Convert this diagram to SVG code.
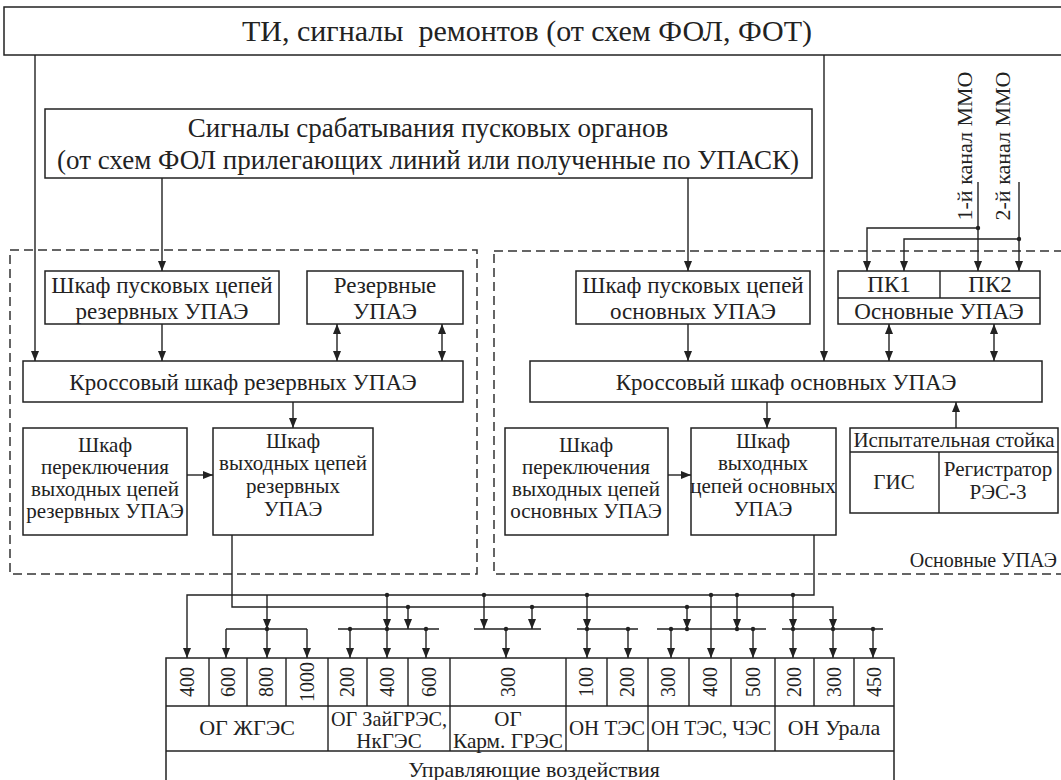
<svg xmlns="http://www.w3.org/2000/svg" width="1061" height="780" viewBox="0 0 1061 780" font-family="Liberation Serif, Times New Roman, serif">
<defs>
<style>
.b{fill:#fff;stroke:#222;stroke-width:1.5}
.d{fill:none;stroke:#333;stroke-width:1.5;stroke-dasharray:9 5}
.c{fill:none;stroke:#222;stroke-width:1.4}
.t{font-family:"Liberation Serif","Times New Roman",serif;font-size:23px;fill:#222;text-anchor:middle;white-space:pre}
.s{font-size:21px}
.n{font-family:"Liberation Serif","Times New Roman",serif;font-size:20px;fill:#222;text-anchor:middle}
.dot{fill:#222}
</style>
<marker id="ah" viewBox="0 0 10 8" refX="10" refY="4" markerWidth="10" markerHeight="8" markerUnits="userSpaceOnUse" orient="auto-start-reverse"><path d="M0,0 L10,4 L0,8 z" fill="#222"/></marker>
</defs>
<rect width="1061" height="780" fill="#fff"/>

<g id="top"><rect class="b" x="4" y="7" width="1070" height="48"/><text class="t" x="527" y="41" style="font-size:30px">ТИ, сигналы  ремонтов (от схем ФОЛ, ФОТ)</text></g>

<g id="signals"><rect class="b" x="45" y="109" width="767" height="69"/>
<text class="t" x="428" y="137" style="font-size:27px">Сигналы срабатывания пусковых органов</text>
<text class="t" x="428" y="169" style="font-size:27px">(от схем ФОЛ прилегающих линий или полученные по УПАСК)</text></g>

<g id="mmo1"><text class="n" style="font-size:22px" transform="translate(972,146) rotate(-90)">1-й канал ММО</text></g>
<g id="mmo2"><text class="n" style="font-size:22px" transform="translate(1010,146) rotate(-90)">2-й канал ММО</text></g>

<g id="zone-res"><rect class="d" x="10" y="250" width="467" height="324"/></g>
<g id="zone-main"><rect class="d" x="494" y="251" width="600" height="323"/><text class="t" x="1057" y="567" style="text-anchor:end;font-size:20px">Основные УПАЭ</text></g>

<g id="res-start"><rect class="b" x="45" y="271" width="234" height="53"/><text class="t" x="162" y="293">Шкаф пусковых цепей</text><text class="t" x="162" y="319">резервных УПАЭ</text></g>
<g id="res-upae"><rect class="b" x="307" y="271" width="156" height="53"/><text class="t" x="385" y="293">Резервные</text><text class="t" x="385" y="319">УПАЭ</text></g>
<g id="res-cross"><rect class="b" x="23" y="361" width="440" height="41"/><text class="t" x="243" y="390">Кроссовый шкаф резервных УПАЭ</text></g>
<g id="res-switch"><rect class="b" x="23" y="428" width="164" height="107"/><g class="t s"><text x="105" y="452">Шкаф</text><text x="105" y="474">переключения</text><text x="105" y="496">выходных  цепей</text><text x="105" y="518">резервных УПАЭ</text></g></g>
<g id="res-out"><rect class="b" x="213" y="428" width="160" height="107"/><g class="t s"><text x="293" y="448">Шкаф</text><text x="293" y="470">выходных цепей</text><text x="293" y="493">резервных</text><text x="293" y="516">УПАЭ</text></g></g>

<g id="main-start"><rect class="b" x="576" y="271" width="234" height="53"/><text class="t" x="693" y="293">Шкаф пусковых цепей</text><text class="t" x="693" y="319">основных УПАЭ</text></g>
<g id="main-upae"><rect class="b" x="838" y="271" width="202" height="53"/><line class="c" x1="838" y1="298" x2="1040" y2="298"/><line class="c" x1="940" y1="271" x2="940" y2="298"/><text class="t" x="889" y="292">ПК1</text><text class="t" x="990" y="292">ПК2</text><text class="t" x="939" y="319">Основные УПАЭ</text></g>
<g id="main-cross"><rect class="b" x="530" y="361" width="512" height="41"/><text class="t" x="786" y="390">Кроссовый шкаф основных УПАЭ</text></g>
<g id="main-switch"><rect class="b" x="505" y="428" width="163" height="107"/><g class="t s"><text x="586" y="452">Шкаф</text><text x="586" y="474">переключения</text><text x="586" y="496">выходных  цепей</text><text x="586" y="518">основных УПАЭ</text></g></g>
<g id="main-out"><rect class="b" x="691" y="428" width="145" height="107"/><g class="t s"><text x="763" y="448">Шкаф</text><text x="763" y="470">выходных</text><text x="763" y="493">цепей основных</text><text x="763" y="516">УПАЭ</text></g></g>
<g id="test"><rect class="b" x="850" y="428" width="208" height="85"/><line class="c" x1="850" y1="452" x2="1058" y2="452"/><line class="c" x1="939" y1="452" x2="939" y2="513"/><g class="t s"><text x="954" y="447">Испытательная стойка</text><text x="894" y="489">ГИС</text><text x="998" y="476">Регистратор</text><text x="998" y="499">РЭС-3</text></g></g>

<g id="table">
<rect class="b" x="166" y="658" width="728" height="130"/>
<line class="c" x1="166" y1="706" x2="894" y2="706"/>
<line class="c" x1="166" y1="751" x2="894" y2="751"/>
<path class="c" d="M209,658V706M247,658V706M286,658V706M328,658V751M367,658V706M408,658V706M450,658V751M566,658V751M607,658V706M648,658V751M689,658V706M731,658V706M775,658V751M814,658V706M854,658V706"/>
<g class="n">
<text transform="translate(194,682) rotate(-90)">400</text>
<text transform="translate(235,682) rotate(-90)">600</text>
<text transform="translate(273,682) rotate(-90)">800</text>
<text transform="translate(314,682) rotate(-90)">1000</text>
<text transform="translate(354,682) rotate(-90)">200</text>
<text transform="translate(394,682) rotate(-90)">400</text>
<text transform="translate(436,682) rotate(-90)">600</text>
<text transform="translate(515,682) rotate(-90)">300</text>
<text transform="translate(593,682) rotate(-90)">100</text>
<text transform="translate(634,682) rotate(-90)">200</text>
<text transform="translate(675,682) rotate(-90)">300</text>
<text transform="translate(717,682) rotate(-90)">400</text>
<text transform="translate(760,682) rotate(-90)">500</text>
<text transform="translate(801,682) rotate(-90)">200</text>
<text transform="translate(841,682) rotate(-90)">300</text>
<text transform="translate(881,682) rotate(-90)">450</text>
</g>
<g class="t" style="font-size:22px">
<text x="247" y="735">ОГ ЖГЭС</text>
<text x="834" y="735">ОН Урала</text>
<text x="607" y="735" textLength="76" lengthAdjust="spacingAndGlyphs">ОН ТЭС</text>
<text x="711" y="735" textLength="120" lengthAdjust="spacingAndGlyphs">ОН ТЭС, ЧЭС</text>
<text x="534" y="777">Управляющие воздействия</text>
</g>
<g class="t" style="font-size:21px">
<text x="389" y="726" textLength="116" lengthAdjust="spacingAndGlyphs">ОГ ЗайГРЭС,</text>
<text x="389" y="748">НкГЭС</text>
<text x="508" y="726">ОГ</text>
<text x="508" y="748" textLength="110" lengthAdjust="spacingAndGlyphs">Карм. ГРЭС</text>
</g>
</g>

<g id="connectors">
<path class="c" marker-end="url(#ah)" d="M35,55V361"/>
<path class="c" marker-end="url(#ah)" d="M824,55V361"/>
<path class="c" marker-end="url(#ah)" d="M162,178V271"/>
<path class="c" marker-end="url(#ah)" d="M688,178V271"/>
<path class="c" marker-end="url(#ah)" d="M162,324V361"/>
<path class="c" marker-end="url(#ah)" marker-start="url(#ah)" d="M337,324V361"/>
<path class="c" marker-end="url(#ah)" marker-start="url(#ah)" d="M442,324V361"/>
<path class="c" marker-end="url(#ah)" d="M293,402V428"/>
<path class="c" marker-end="url(#ah)" d="M187,475H213"/>
<path class="c" marker-end="url(#ah)" d="M688,324V361"/>
<path class="c" marker-end="url(#ah)" marker-start="url(#ah)" d="M889,324V361"/>
<path class="c" marker-end="url(#ah)" marker-start="url(#ah)" d="M994,324V361"/>
<path class="c" marker-end="url(#ah)" d="M767,402V428"/>
<path class="c" marker-end="url(#ah)" d="M956,428V402"/>
<path class="c" marker-end="url(#ah)" d="M668,475H691"/>
<path class="c" d="M978,182V228"/>
<path class="c" marker-end="url(#ah)" d="M978,228V271"/>
<path class="c" marker-end="url(#ah)" d="M978,228H867V271"/>
<path class="c" d="M1019,182V239"/>
<path class="c" marker-end="url(#ah)" d="M1019,239V271"/>
<path class="c" marker-end="url(#ah)" d="M1019,239H904V271"/>
<circle class="dot" cx="978" cy="228" r="2.2"/>
<circle class="dot" cx="1019" cy="239" r="2.2"/>

<path class="c" marker-end="url(#ah)" d="M814,535V595H187V658"/>
<path class="c" marker-end="url(#ah)" d="M232,535V607H833V629"/>
<path class="c" marker-end="url(#ah)" d="M833,629V658"/>
<path class="c" d="M226,629H307M338,629H439M474,629H541M577,629H638M657,629H766M782,629H883"/>
<path class="c" marker-end="url(#ah)" d="M267,595V629"/>
<path class="c" marker-end="url(#ah)" d="M226,629V658"/>
<path class="c" marker-end="url(#ah)" d="M267,629V658"/>
<path class="c" marker-end="url(#ah)" d="M307,629V658"/>
<path class="c" marker-end="url(#ah)" d="M387,595V629"/>
<path class="c" marker-end="url(#ah)" d="M387,629V658"/>
<path class="c" marker-end="url(#ah)" d="M408,607V629"/>
<path class="c" marker-end="url(#ah)" d="M350,629V658"/>
<path class="c" marker-end="url(#ah)" d="M426,629V658"/>
<path class="c" marker-end="url(#ah)" d="M484,595V629"/>
<path class="c" marker-end="url(#ah)" d="M532,607V629"/>
<path class="c" marker-end="url(#ah)" d="M506,629V658"/>
<path class="c" marker-end="url(#ah)" d="M587,595V629"/>
<path class="c" marker-end="url(#ah)" d="M587,629V658"/>
<path class="c" marker-end="url(#ah)" d="M628,629V658"/>
<path class="c" marker-end="url(#ah)" d="M687,607V629"/>
<path class="c" marker-end="url(#ah)" d="M671,629V658"/>
<path class="c" marker-end="url(#ah)" d="M711,595V658"/>
<path class="c" marker-end="url(#ah)" d="M737,595V629"/>
<path class="c" marker-end="url(#ah)" d="M753,629V658"/>
<path class="c" marker-end="url(#ah)" d="M793,595V629"/>
<path class="c" marker-end="url(#ah)" d="M793,629V658"/>
<path class="c" marker-end="url(#ah)" d="M873,629V658"/>
<g class="dot">
<circle cx="267" cy="629" r="2.2"/>
<circle cx="387" cy="595" r="2.2"/><circle cx="387" cy="629" r="2.2"/><circle cx="350" cy="629" r="2.2"/><circle cx="426" cy="629" r="2.2"/><circle cx="408" cy="607" r="2.2"/>
<circle cx="484" cy="595" r="2.2"/><circle cx="532" cy="607" r="2.2"/><circle cx="506" cy="629" r="2.2"/>
<circle cx="587" cy="595" r="2.2"/><circle cx="587" cy="629" r="2.2"/><circle cx="628" cy="629" r="2.2"/>
<circle cx="687" cy="607" r="2.2"/><circle cx="687" cy="629" r="2.2"/><circle cx="671" cy="629" r="2.2"/><circle cx="711" cy="595" r="2.2"/><circle cx="737" cy="595" r="2.2"/><circle cx="737" cy="629" r="2.2"/><circle cx="753" cy="629" r="2.2"/>
<circle cx="793" cy="595" r="2.2"/><circle cx="793" cy="629" r="2.2"/><circle cx="833" cy="629" r="2.2"/><circle cx="873" cy="629" r="2.2"/>
</g>
</g>
</svg>
